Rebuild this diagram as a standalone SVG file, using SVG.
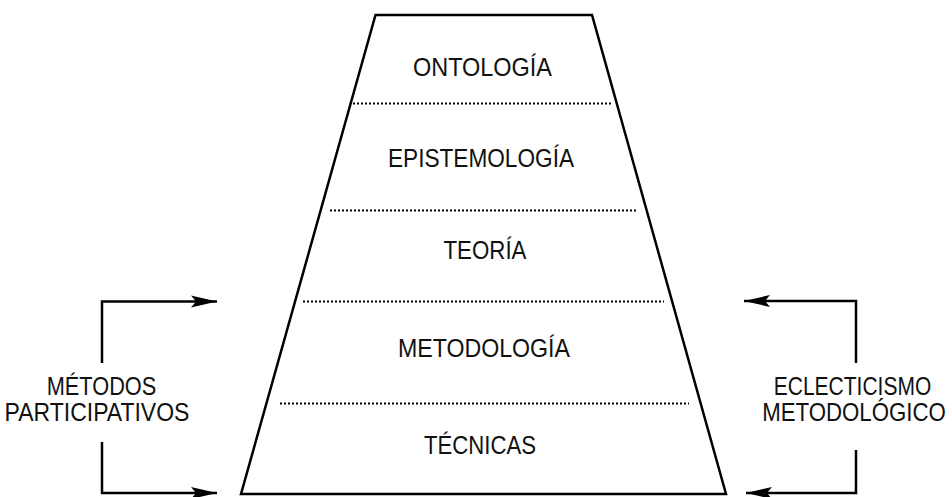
<svg xmlns="http://www.w3.org/2000/svg" width="952" height="497" viewBox="0 0 952 497">
<defs>
<style>
.t{font-family:"Liberation Sans",Arial,sans-serif;font-size:25px;fill:#111;text-anchor:middle}
.dot{stroke:#000;stroke-width:2;stroke-dasharray:2 2;fill:none}
.ln{stroke:#000;stroke-width:2.5;fill:none}
</style>
<marker id="ah" markerUnits="userSpaceOnUse" markerWidth="27" markerHeight="15" refX="26" refY="7.5" orient="auto">
<path d="M0,1.5 L26,7.5 L0,13.5 L5,7.5 Z" fill="#000"/>
</marker>
</defs>
<g id="pyramid">
<polygon points="375.5,15 592,15 726,494 241,494" fill="#fff" stroke="#000" stroke-width="2.5" stroke-linejoin="miter"/>
</g>
<g id="dividers">
<line class="dot" x1="353" y1="103.5" x2="613" y2="103.5"/>
<line class="dot" x1="330" y1="210.5" x2="637" y2="210.5"/>
<line class="dot" x1="303" y1="301.5" x2="664" y2="301.5"/>
<line class="dot" x1="280" y1="403.5" x2="689" y2="403.5"/>
</g>
<g id="ontologia"><text class="t" x="482.5" y="76" textLength="139" lengthAdjust="spacingAndGlyphs">ONTOLOGÍA</text></g>
<g id="epistemologia"><text class="t" x="481" y="166.5" textLength="186" lengthAdjust="spacingAndGlyphs">EPISTEMOLOGÍA</text></g>
<g id="teoria"><text class="t" x="485" y="259" textLength="83" lengthAdjust="spacingAndGlyphs">TEORÍA</text></g>
<g id="metodologia"><text class="t" x="484" y="357" textLength="172" lengthAdjust="spacingAndGlyphs">METODOLOGÍA</text></g>
<g id="tecnicas"><text class="t" x="480" y="454" textLength="112" lengthAdjust="spacingAndGlyphs">TÉCNICAS</text></g>
<g id="metodos-participativos">
<text class="t" transform="translate(101.5,395) scale(0.87,1)">MÉTODOS</text>
<text class="t" transform="translate(97,421) scale(0.92,1)">PARTICIPATIVOS</text>
</g>
<g id="eclecticismo">
<text class="t" transform="translate(852.5,395) scale(0.84,1)">ECLECTICISMO</text>
<text class="t" transform="translate(854,421) scale(0.89,1)">METODOLÓGICO</text>
</g>
<g id="connectors">
<path class="ln" d="M102,363 V301.5 H217" marker-end="url(#ah)"/>
<path class="ln" d="M102,442 V493 H217" marker-end="url(#ah)"/>
<path class="ln" d="M856,363 V301 H744" marker-end="url(#ah)"/>
<path class="ln" d="M856,450 V493 H746" marker-end="url(#ah)"/>
</g>
</svg>
